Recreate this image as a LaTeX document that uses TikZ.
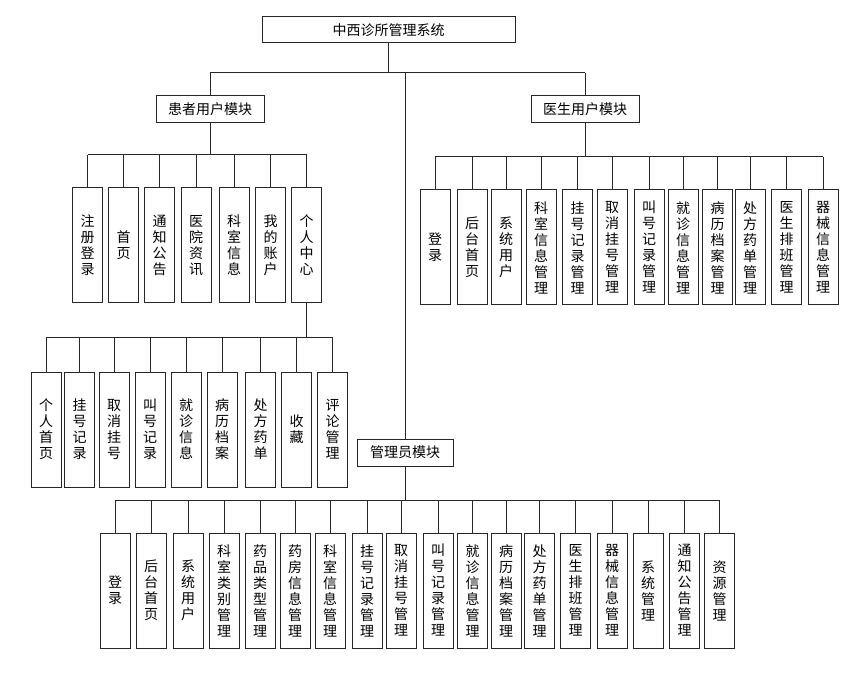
\documentclass[tikz,border=0pt]{standalone}
\usepackage{fontspec}
\newfontfamily\cjk{Noto Sans CJK SC}
\begin{document}
\begin{tikzpicture}[x=0.75pt,y=-0.75pt,
  every node/.style={font=\cjk\fontsize{10.5}{12}\selectfont, text=black},
  modbox/.style={draw=black!85, line width=0.75pt, fill=white, minimum height=20.25pt, minimum width=81pt, inner sep=0pt},
  leafbox/.style={draw=black!85, line width=0.75pt, fill=white, minimum height=86.25pt, minimum width=22.5pt, inner sep=0pt, align=center},
  conn/.style={draw=black!85, line width=0.75pt}]
\useasboundingbox (0,0) rectangle (863,673);

% top
\node[modbox, minimum width=189.75pt, minimum height=19.5pt] (root) at (388.5,30) {中西诊所管理系统};
\node[modbox] (pat) at (210,109.5) {患者用户模块};
\node[modbox] (doc) at (585,109.5) {医生用户模块};
\node[modbox, minimum width=72pt] (adm) at (405,452.5) {管理员模块};

\coordinate (bus0) at (0,73);
\coordinate (busP) at (0,155);
\coordinate (busD) at (0,157);
\coordinate (busC) at (0,338);
\coordinate (busA) at (0,500);

% patient leaves
\foreach \n/\x/\t in {p1/87.5/注\\册\\登\\录, p2/123.5/首\\页, p3/159.5/通\\知\\公\\告, p4/196/医\\院\\资\\讯, p5/234/科\\室\\信\\息, p6/270.5/我\\的\\账\\户, p7/306.5/个\\人\\中\\心}
  \node[leafbox] (\n) at (\x,245.5) {\t};

% doctor leaves
\foreach \n/\x/\t in {d1/435/登\\录, d2/472/后\\台\\首\\页, d3/506/系\\统\\用\\户, d4/541/科\\室\\信\\息\\管\\理, d5/577.5/挂\\号\\记\\录\\管\\理, d6/612/取\\消\\挂\\号\\管\\理, d7/649/叫\\号\\记\\录\\管\\理, d8/683/就\\诊\\信\\息\\管\\理, d9/717.5/病\\历\\档\\案\\管\\理, d10/750/处\\方\\药\\单\\管\\理, d11/786.5/医\\生\\排\\班\\管\\理, d12/823/器\\械\\信\\息\\管\\理}
  \node[leafbox] (\n) at (\x,247.5) {\t};

% personal center leaves
\foreach \n/\x/\t in {c1/46/个\\人\\首\\页, c2/79.5/挂\\号\\记\\录, c3/114/取\\消\\挂\\号, c4/150/叫\\号\\记\\录, c5/186/就\\诊\\信\\息, c6/222/病\\历\\档\\案, c7/260.5/处\\方\\药\\单, c8/296.5/收\\藏, c9/332.5/评\\论\\管\\理}
  \node[leafbox] (\n) at (\x,429.5) {\t};

% admin leaves
\foreach \n/\x/\t in {a1/115/登\\录, a2/151/后\\台\\首\\页, a3/188/系\\统\\用\\户, a4/224/科\\室\\类\\别\\管\\理, a5/260/药\\品\\类\\型\\管\\理, a6/295/药\\房\\信\\息\\管\\理, a7/330/科\\室\\信\\息\\管\\理, a8/367/挂\\号\\记\\录\\管\\理, a9/401/取\\消\\挂\\号\\管\\理, a10/438/叫\\号\\记\\录\\管\\理, a11/472.5/就\\诊\\信\\息\\管\\理, a12/506/病\\历\\档\\案\\管\\理, a13/539.5/处\\方\\药\\单\\管\\理, a14/575.5/医\\生\\排\\班\\管\\理, a15/612/器\\械\\信\\息\\管\\理, a16/648/系\\统\\管\\理, a17/684.5/通\\知\\公\\告\\管\\理, a18/719.5/资\\源\\管\\理}
  \node[leafbox] (\n) at (\x,590.5) {\t};

% connectors: root level
\draw[conn] (root.south) -- (root.south |- bus0);
\draw[conn] (pat.north |- bus0) -- (doc.north |- bus0);
\draw[conn] (pat.north |- bus0) -- (pat.north);
\draw[conn] (doc.north |- bus0) -- (doc.north);
\draw[conn] (adm.north |- bus0) -- (adm.north);

% patient
\draw[conn] (pat.south) -- (pat.south |- busP);
\draw[conn] (p1.north |- busP) -- (p7.north |- busP);
\foreach \n in {p1,p2,p3,p4,p5,p6,p7} \draw[conn] (\n.north |- busP) -- (\n.north);

% doctor
\draw[conn] (doc.south) -- (doc.south |- busD);
\draw[conn] (d1.north |- busD) -- (d12.north |- busD);
\foreach \n in {d1,d2,d3,d4,d5,d6,d7,d8,d9,d10,d11,d12} \draw[conn] (\n.north |- busD) -- (\n.north);

% personal center
\draw[conn] (p7.south) -- (p7.south |- busC);
\draw[conn] (c1.north |- busC) -- (c9.north |- busC);
\foreach \n in {c1,c2,c3,c4,c5,c6,c7,c8,c9} \draw[conn] (\n.north |- busC) -- (\n.north);

% admin
\draw[conn] (adm.south) -- (adm.south |- busA);
\draw[conn] (a1.north |- busA) -- (a18.north |- busA);
\foreach \n in {a1,a2,a3,a4,a5,a6,a7,a8,a9,a10,a11,a12,a13,a14,a15,a16,a17,a18} \draw[conn] (\n.north |- busA) -- (\n.north);
\end{tikzpicture}
\end{document}
